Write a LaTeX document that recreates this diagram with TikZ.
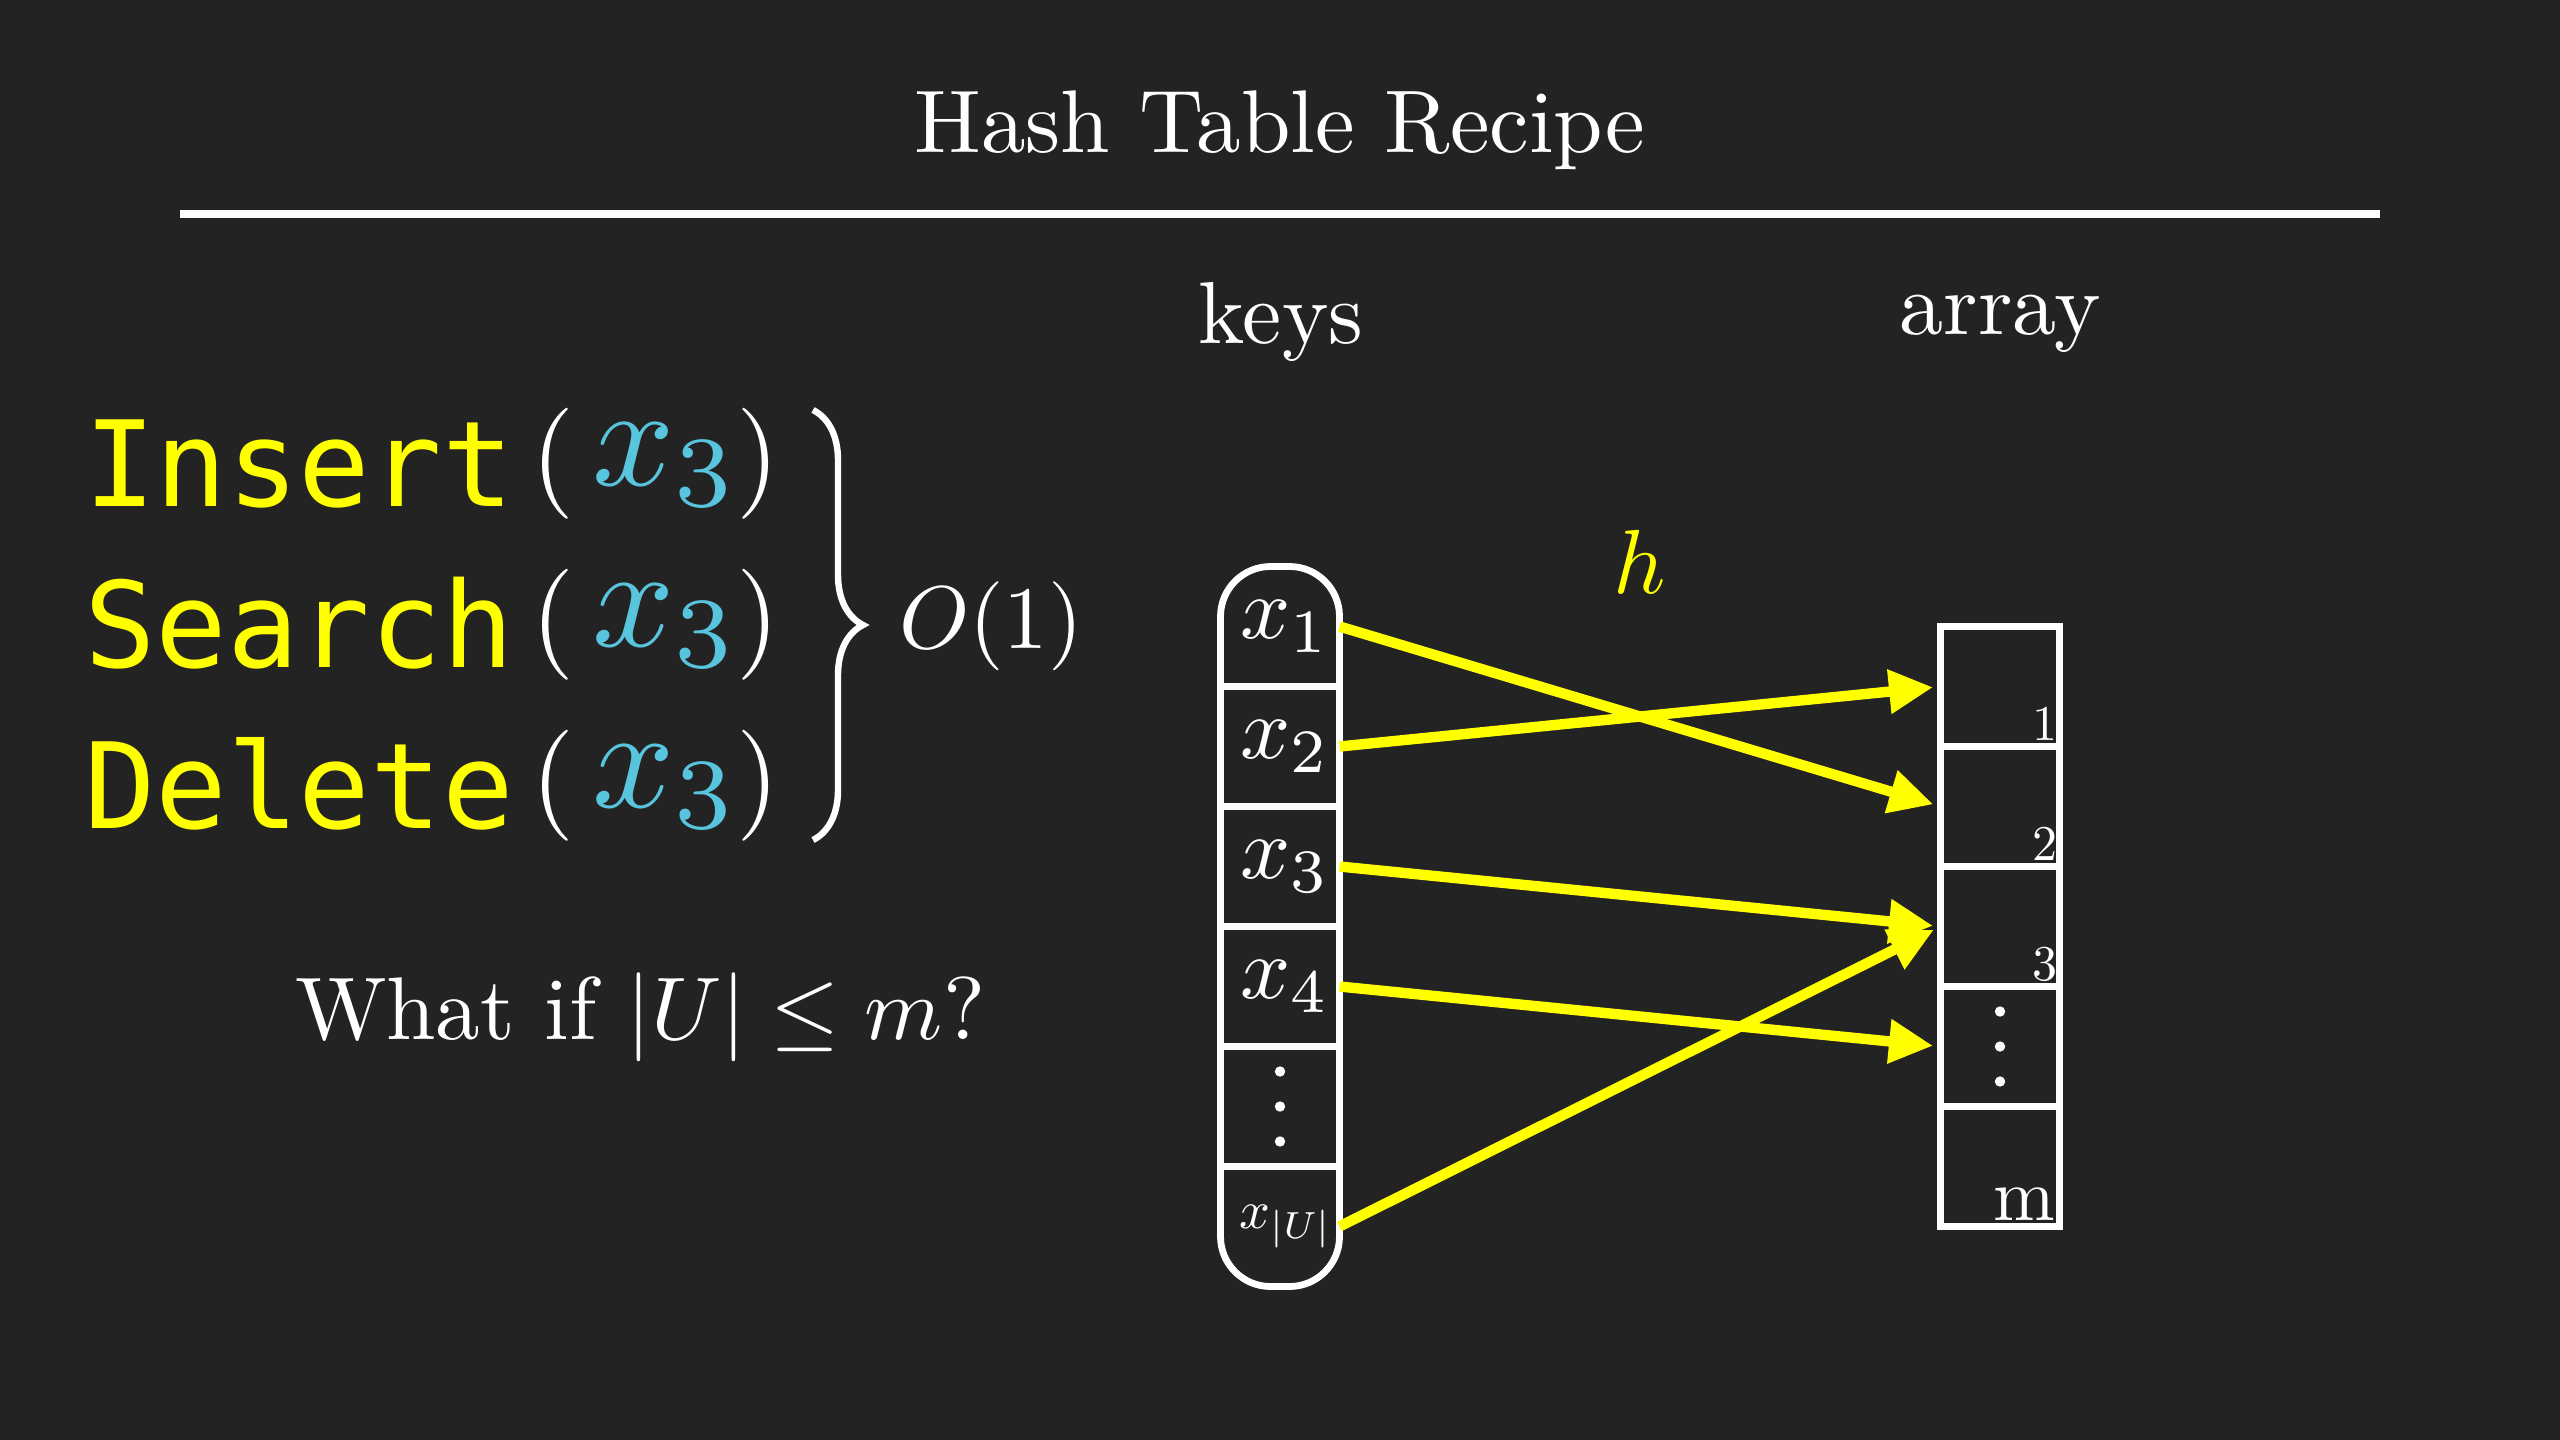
\documentclass[tikz,border=0pt]{standalone}
\usepackage{fontspec}
\newfontfamily\opfont{DejaVu Sans Mono}
\usetikzlibrary{arrows.meta,decorations.pathreplacing}
\definecolor{bg}{HTML}{232323}
\definecolor{hyellow}{HTML}{FFFF00}
\definecolor{hblue}{HTML}{58C4DD}
\newcommand{\setfs}[1]{\fontsize{#1}{#1}\selectfont}
\newcommand{\sz}[2]{\scalebox{#1}{#2}}
\begin{document}
\begin{tikzpicture}[x=0.5pt,y=-0.5pt,
  txt/.style={text=white, inner sep=0pt, outer sep=0pt},
  op/.style={txt, text=hyellow, font=\opfont\setfs{59.5pt}, anchor=base west},
  paren/.style={txt, anchor=base},
  arg/.style={txt, text=hblue, anchor=base west},
  cell/.style={minimum width=59.5pt, minimum height=60pt, inner sep=0pt, outer sep=0pt, text=white},
  klabel/.style={txt, xshift=2.5pt},
  frame/.style={draw=white, line width=3.4pt},
  map/.style={draw=hyellow, line width=5.2pt, -{Triangle[length=22pt,width=21pt]}, shorten >=3.75pt},
  idx/.style={txt, anchor=base east}
]
\fill[bg] (0,0) rectangle (2560,1440);
\useasboundingbox (0,0) rectangle (2560,1440);

% title and rule
\node[txt, anchor=base] (title) at (1280,152) {\sz{4.45}{Hash Table Recipe}};
\coordinate (ruleL) at (180,214);
\coordinate (ruleR) at (2380,214);
\draw[white, line width=3.8pt] (ruleL) -- (ruleR);

% column labels
\node[txt, anchor=base] (keyslbl) at (1281,343) {\sz{4.4}{keys}};
\node[txt, anchor=base] (arraylbl) at (2000,334) {\sz{4.4}{array}};
\node[txt, text=hyellow, anchor=base] (hlbl) at (1640,593) {\sz{4.55}{$h$}};

% operations
\node[op] (ins) at (84,506) {Insert};
\node[paren] (insL) at (553,491) {\sz{5.55}{(}};
\node[arg] (insA) at (592,485) {\sz{7.2}{$x_3$}};
\node[paren] (insR) at (758,491) {\sz{5.55}{)}};

\node[op] (sea) at (84,667) {Search};
\node[paren] (seaL) at (553,652) {\sz{5.55}{(}};
\node[arg] (seaA) at (592,646) {\sz{7.2}{$x_3$}};
\node[paren] (seaR) at (758,652) {\sz{5.55}{)}};

\node[op] (del) at (84,828) {Delete};
\node[paren] (delL) at (553,813) {\sz{5.55}{(}};
\node[arg] (delA) at (592,807) {\sz{7.2}{$x_3$}};
\node[paren] (delR) at (758,813) {\sz{5.55}{)}};

\coordinate (braceT) at (813,410);
\coordinate (braceB) at (813,840);
\draw[white, line width=3.2pt, decorate, decoration={brace, amplitude=25pt}] (braceT) -- (braceB);
\node[txt, anchor=base west] (bigo) at (899,648) {\sz{4.45}{$O(1)$}};

\node[txt, anchor=base west] (question) at (295,1039) {\sz{4.45}{What if $|U|\leq m$?}};

% keys column
\node[cell] (k1) at (1280,626.5) {};
\node[cell] (k2) at (1280,746.5) {};
\node[cell] (k3) at (1280,866.5) {};
\node[cell] (k4) at (1280,986.5) {};
\node[cell] (k5) at (1280,1106.5) {};
\node[cell] (k6) at (1280,1226.5) {};
\node[klabel] (k1t) at (k1.center) {\sz{4.4}{$x_1$}};
\node[klabel] (k2t) at (k2.center) {\sz{4.4}{$x_2$}};
\node[klabel] (k3t) at (k3.center) {\sz{4.4}{$x_3$}};
\node[klabel] (k4t) at (k4.center) {\sz{4.4}{$x_4$}};
\node[klabel, xshift=0.5pt] (k6t) at (k6.center) {\sz{2.7}{$x_{|U|}$}};
\draw[frame, rounded corners=25pt] (k1.north west) rectangle (k6.south east);
\foreach \i in {1,...,5} \draw[frame] (k\i.south west) -- (k\i.south east);
\foreach \d in {-35,0,35} \fill[white] ([yshift=\d*0.5pt]k5.center) circle (2.6pt);

% array column
\node[cell] (a1) at (2000,686.5) {};
\node[cell] (a2) at (2000,806.5) {};
\node[cell] (a3) at (2000,926.5) {};
\node[cell] (a4) at (2000,1046.5) {};
\node[cell] (a5) at (2000,1166.5) {};
\draw[frame] (a1.north west) rectangle (a5.south east);
\foreach \i in {1,...,4} \draw[frame] (a\i.south west) -- (a\i.south east);
\foreach \d in {-35,0,35} \fill[white] ([yshift=\d*0.5pt]a4.center) circle (2.6pt);
\node[idx] (i1) at (2057,740) {\sz{2.5}{1}};
\node[idx] (i2) at (2057,860) {\sz{2.5}{2}};
\node[idx] (i3) at (2057,980) {\sz{2.5}{3}};
\node[idx] (im) at (2055,1220) {\sz{3.7}{m}};

% hash mapping
\draw[map] (k1.east) -- (a2.west);
\draw[map] (k2.east) -- (a1.west);
\draw[map] (k3.east) -- (a3.west);
\draw[map] (k4.east) -- (a4.west);
\draw[map] (k6.east) -- (a3.west);
\end{tikzpicture}
\end{document}
